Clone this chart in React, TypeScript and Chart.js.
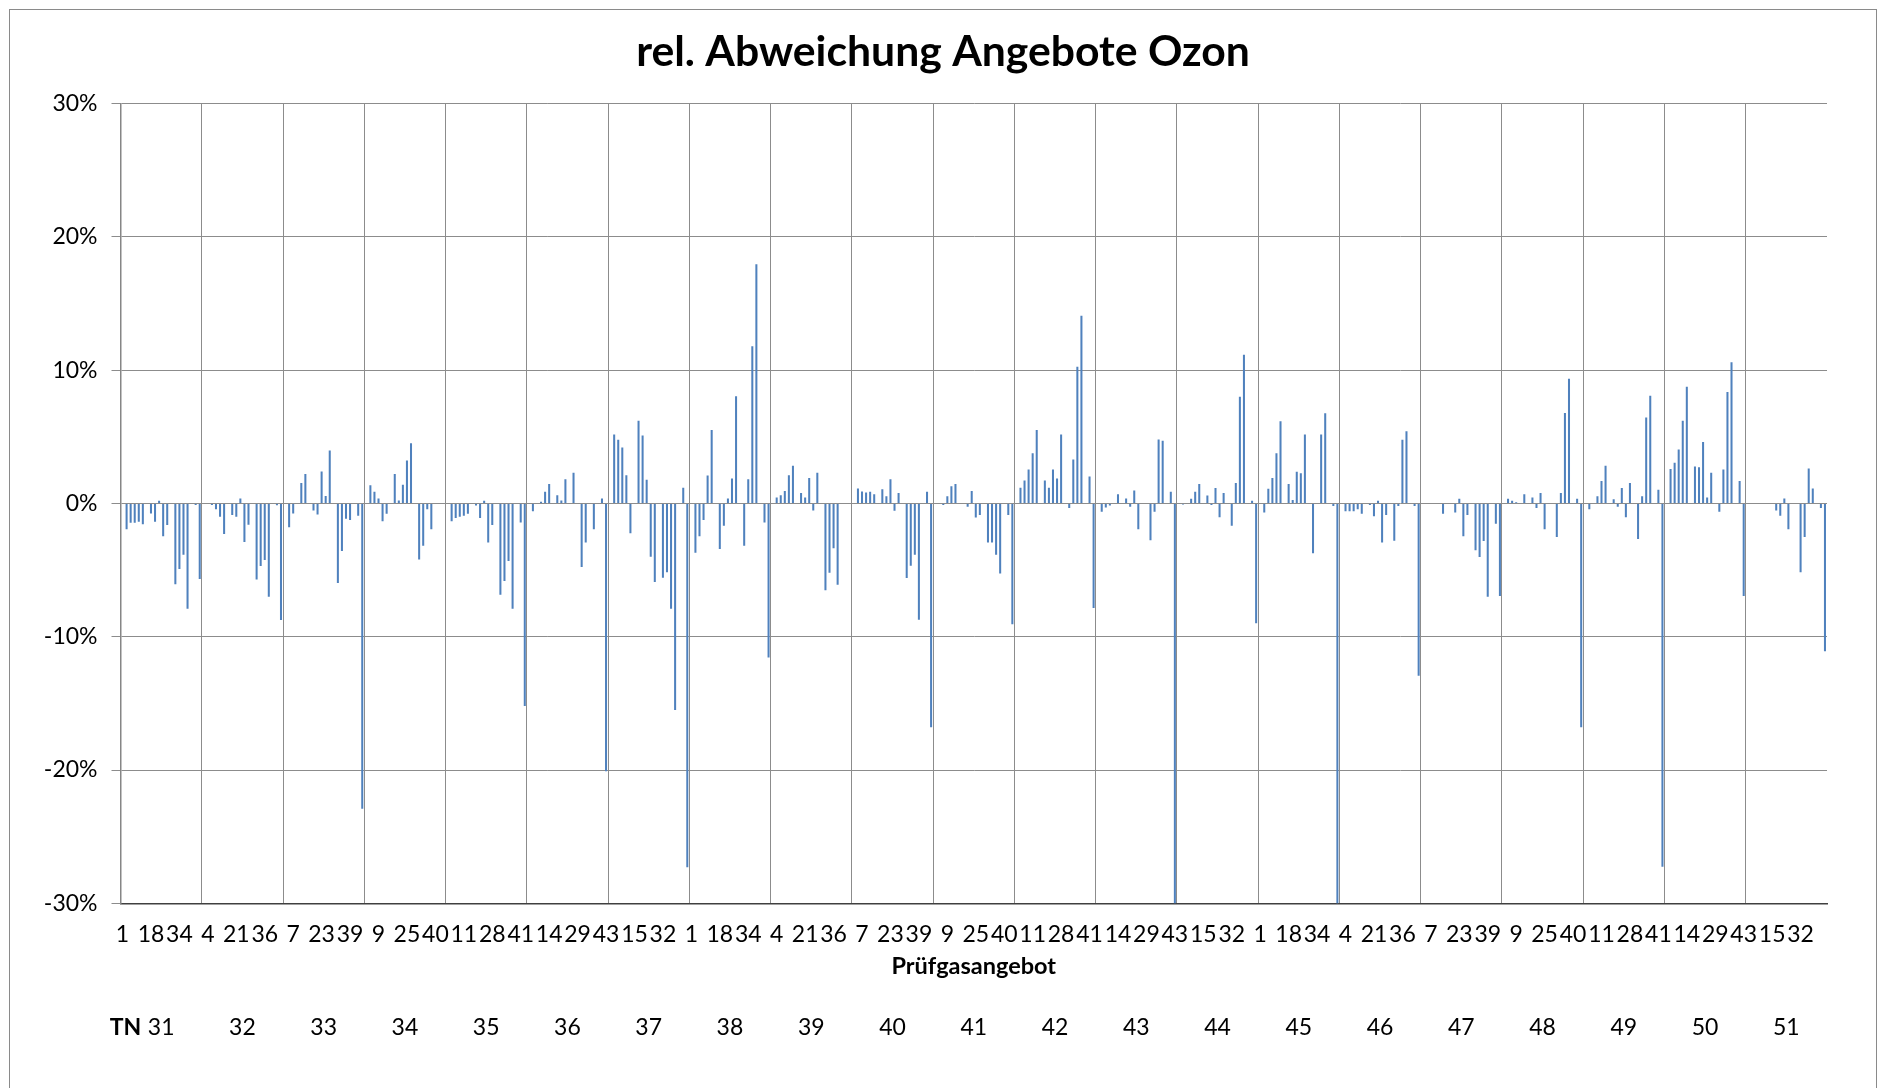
import React, { useEffect, useRef } from 'react';
import { Chart, registerables } from 'chart.js';

Chart.register(...registerables);

const FONT = 'Lato, "Open Sans", "DejaVu Sans", sans-serif';

const chartTitle = 'rel. Abweichung Angebote Ozon';
// Prüfgasangebot numbers within each TN block
const angebotNr = [1, 4, 7, 9, 11, 14, 15, 18, 21, 23, 25, 28, 29, 32, 34, 36, 39, 40, 41, 43];
// Teilnehmer (TN)
const tnNummern = [31, 32, 33, 34, 35, 36, 37, 38, 39, 40, 41, 42, 43, 44, 45, 46, 47, 48, 49, 50, 51];
const yTicks = [-30, -20, -10, 0, 10, 20, 30];

// relative deviation in % per TN (order = angebotNr)
const tn31 = [null, -1.93, -1.46, -1.46, -1.37, -1.56, null, -0.75, -1.37, 0.19, -2.46, -1.62, null, -6.07, -4.92, -3.86, -7.91, null, -0.12, -5.67];
const tn32 = [null, null, -0.12, -0.44, -1.0, -2.3, null, -0.87, -1.0, 0.37, -2.9, -1.6, null, -5.7, -4.7, -4.25, -7.0, null, -0.13, -8.75];
const tn33 = [null, -1.78, -0.75, null, 1.53, 2.21, null, -0.53, -0.84, 2.4, 0.56, 3.96, null, -5.98, -3.58, -1.15, -1.25, null, -0.93, -22.9];
const tn34 = [null, 1.37, 0.87, 0.37, -1.34, -0.78, null, 2.21, 0.22, 1.4, 3.21, 4.52, null, -4.2, -3.18, -0.44, -1.93, null, null, null];
const tn35 = [null, -1.34, -1.09, -1.0, -0.93, -0.78, null, -0.16, -1.09, 0.19, -2.93, -1.62, null, -6.85, -5.83, -4.33, -7.91, null, -1.43, -15.2];
const tn36 = [null, -0.59, null, 0.12, 0.87, 1.46, null, 0.62, 0.22, 1.81, null, 2.3, null, -4.77, -2.93, null, -1.93, null, 0.37, -20.1];
const tn37 = [null, 5.17, 4.77, 4.2, 2.12, -2.24, null, 6.2, 5.1, 1.78, -4.0, -5.9, null, -5.58, -5.17, -7.91, -15.5, null, 1.18, -27.3];
const tn38 = [null, -3.7, -2.46, -1.25, 2.09, 5.51, null, -3.43, -1.68, 0.37, 1.87, 8.04, null, -3.18, 1.81, 11.78, 17.94, null, -1.43, -11.56];
const tn39 = [null, 0.44, 0.62, 0.93, 2.12, 2.83, null, 0.78, 0.44, 1.9, -0.53, 2.3, null, -6.51, -5.2, -3.36, -6.1, null, null, null];
const tn40 = [null, 1.12, 0.9, 0.81, 0.87, 0.69, null, 1.06, 0.53, 1.81, -0.56, 0.78, null, -5.6, -4.67, -3.86, -8.72, null, 0.87, -16.8];
const tn41 = [null, null, -0.12, 0.53, 1.28, 1.46, null, null, -0.25, 0.93, -1.06, -0.87, null, -2.93, -2.93, -3.86, -5.26, null, -0.87, -9.07];
const tn42 = [null, 1.18, 1.71, 2.55, 3.77, 5.51, null, 1.71, 1.18, 2.55, 1.87, 5.17, null, -0.34, 3.3, 10.25, 14.08, null, 2.02, -7.85];
const tn43 = [null, -0.62, -0.31, -0.16, null, 0.69, null, 0.37, -0.25, 0.97, -1.93, null, null, -2.77, -0.62, 4.8, 4.7, null, 0.87, -30.5];
const tn44 = [null, -0.09, null, 0.34, 0.87, 1.46, null, 0.59, -0.12, 1.15, -1.03, 0.78, null, -1.68, 1.53, 8.0, 11.15, null, 0.19, -9.0];
const tn45 = [null, -0.69, 1.09, 1.9, 3.77, 6.17, null, 1.46, 0.25, 2.37, 2.27, 5.17, null, -3.74, null, 5.17, 6.76, null, -0.19, -30.5];
const tn46 = [null, -0.59, -0.59, -0.59, -0.44, -0.78, null, -0.12, -0.97, 0.19, -2.93, -0.87, null, -2.8, -0.19, 4.77, 5.42, null, -0.19, -12.93];
const tn47 = [null, null, null, null, null, -0.78, null, null, -0.69, 0.34, -2.46, -0.87, null, -3.52, -4.02, -2.83, -7.0, null, -1.53, -6.95];
const tn48 = [null, 0.34, 0.19, 0.09, null, 0.69, null, 0.44, -0.34, 0.78, -1.93, null, null, -2.52, 0.78, 6.79, 9.35, null, 0.34, -16.8];
const tn49 = [null, -0.44, null, 0.53, 1.68, 2.83, null, 0.31, -0.25, 1.15, -1.03, 1.53, null, -2.68, 0.53, 6.45, 8.07, null, 1.03, -27.26];
const tn50 = [null, 2.59, 3.05, 4.05, 6.2, 8.75, null, 2.77, 2.71, 4.61, 0.44, 2.3, null, -0.62, 2.55, 8.35, 10.59, null, 1.68, -6.95];
const tn51 = [null, null, null, null, null, null, null, -0.53, -0.93, 0.37, -1.93, null, null, -5.17, -2.52, 2.62, 1.12, null, -0.34, -11.1];

const abweichungen = [tn31, tn32, tn33, tn34, tn35, tn36, tn37, tn38, tn39, tn40, tn41, tn42, tn43, tn44, tn45, tn46, tn47, tn48, tn49, tn50, tn51];

const labels: string[] = [];
const values: (number | null)[] = [];
tnNummern.forEach((_tn, g) => {
  angebotNr.forEach((nr, i) => {
    labels.push(String(nr));
    values.push(abweichungen[g][i]);
  });
});
const perGroup = angebotNr.length;

const textPlugin = {
  id: 'extraText',
  afterDraw(chart: any) {
    const { ctx, chartArea } = chart;
    const x = chart.scales.x;
    ctx.save();
    ctx.fillStyle = '#000';
    ctx.textBaseline = 'middle';
    ctx.textAlign = 'center';
    // chart title, centred on the whole chart
    ctx.font = `bold 42.7px ${FONT}`;
    ctx.fillText(chartTitle, chart.width / 2, chartArea.top - 51);
    // TN row
    const y = chartArea.bottom + 124;
    ctx.font = `bold 23px ${FONT}`;
    ctx.fillText('TN', chartArea.left + 5, y);
    ctx.font = `23px ${FONT}`;
    tnNummern.forEach((tn, g) => {
      const a = x.getPixelForValue(g * perGroup);
      const b = x.getPixelForValue(g * perGroup + perGroup - 1);
      ctx.fillText(String(tn), (a + b) / 2, y);
    });
    ctx.restore();
  },
};

export default function App() {
  const ref = useRef<HTMLCanvasElement | null>(null);

  useEffect(() => {
    if (!ref.current) return;
    const chart = new Chart(ref.current, {
      type: 'bar',
      data: {
        labels,
        datasets: [
          {
            data: values as any,
            backgroundColor: '#4F81BD',
            borderWidth: 0,
            barPercentage: 1,
            categoryPercentage: 0.5,
            clip: 0 as any,
          },
        ],
      },
      options: {
        animation: false,
        responsive: false,
        maintainAspectRatio: false,
        devicePixelRatio: 1,
        layout: { padding: { left: 0, right: 49, top: 93.5, bottom: 0 } },
        plugins: {
          legend: { display: false },
          tooltip: { enabled: false },
          title: { display: false },
        },
        scales: {
          x: {
            type: 'category',
            offset: true,
            grid: {
              display: true,
              offset: true,
              drawTicks: false,
              lineWidth: 1,
              color: (c: any) => (c.index % perGroup === 0 ? '#8c8c8c' : 'rgba(0,0,0,0)'),
            },
            border: { display: true, color: '#404040', width: 1.5 },
            ticks: {
              autoSkip: false,
              maxRotation: 0,
              minRotation: 0,
              padding: 17,
              color: '#000',
              font: { family: FONT, size: 23, lineHeight: 1.2 },
              callback: (_v: any, i: number) => (i % 7 === 0 ? labels[i] : ''),
            },
            title: {
              display: true,
              text: 'Prüfgasangebot',
              color: '#000',
              font: { family: FONT, size: 23.5, weight: 'bold', lineHeight: 1.2 },
              padding: { top: 0, bottom: 109 },
            },
            afterFit: (s: any) => {
              s.height = 186.7;
            },
          },
          y: {
            min: yTicks[0],
            max: yTicks[yTicks.length - 1],
            afterBuildTicks: (s: any) => {
              s.ticks = yTicks.map((v) => ({ value: v }));
            },
            ticks: {
              padding: 14,
              color: '#000',
              font: { family: FONT, size: 23, lineHeight: 1.2 },
              callback: (v: any) => `${v}%`,
            },
            grid: { color: '#8c8c8c', tickLength: 9, tickColor: '#8c8c8c', lineWidth: 1 },
            border: { display: true, color: '#868686', width: 1.5 },
            afterFit: (s: any) => {
              s.width = 110.5;
            },
          },
        },
      },
      plugins: [textPlugin],
    });
    return () => chart.destroy();
  }, []);

  return (
    <div style={{ position: 'fixed', left: 0, top: 0, right: 0, bottom: 0, overflow: 'hidden', background: '#fff' }}>
      <div
        style={{
          position: 'absolute',
          left: 9,
          top: 9,
          width: 1866,
          height: 1080,
          border: '1px solid #8a8a8a',
          background: '#fff',
        }}
      >
        <canvas ref={ref} width={1866} height={1080} style={{ display: 'block', width: 1866, height: 1080 }} />
      </div>
    </div>
  );
}
